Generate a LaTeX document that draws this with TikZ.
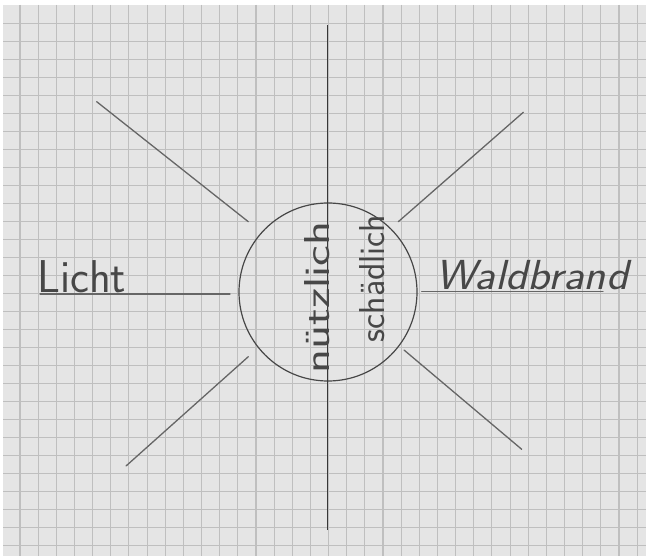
\documentclass[tikz,border=0pt]{standalone}
\usepackage{fontspec}
\begin{document}
\begin{tikzpicture}[x=1pt,y=-1pt,
  gridline/.style={draw=gray!50, line width=1.1pt},
  ray/.style={draw=black!60, line width=1.3pt, line cap=round},
  axis/.style={draw=black!78, line width=1.3pt},
  hand/.style={text=black!72, inner sep=0pt, font=\sffamily},
]
\useasboundingbox (0,0) rectangle (646,556);
\fill[white] (0,0) rectangle (646,556);
\fill[gray!20] (3,5) rectangle (646,556);
% grid paper
\foreach \k in {1,...,35} {
  \draw[gridline] ({1.85+18.15*\k},5) -- ({1.85+18.15*\k},556);
}
\foreach \k in {1,...,30} {
  \draw[gridline] (3,{5.3+18*\k}) -- (646,{5.3+18*\k});
}
% central circle
\node[circle, draw=black!72, line width=1.2pt, minimum size=178pt, inner sep=0pt] (sun) at (328,292) {};
% vertical axis
\coordinate (vtop) at (327.5,25);
\coordinate (vbot) at (327.5,530);
\draw[axis] (vtop) -- (vbot);
% rays
\coordinate (ulA) at (96.7,101.7);  \coordinate (ulB) at (248.3,221.7);
\coordinate (urA) at (523.3,112.3); \coordinate (urB) at (398.3,221.7);
\coordinate (llA) at (126,466);     \coordinate (llB) at (248.3,356.7);
\coordinate (lrA) at (521.7,449.3); \coordinate (lrB) at (404,350);
\draw[ray] (ulA) -- (ulB);
\draw[ray] (urA) -- (urB);
\draw[ray] (llA) -- (llB);
\draw[ray] (lrA) -- (lrB);
% horizontal lines (underlines)
\coordinate (lA) at (40,294);    \coordinate (lB) at (230,294);
\coordinate (rA) at (421.7,291.7); \coordinate (rB) at (603,291.7);
\draw[ray] (lA) -- (lB);
\draw[ray] (rA) -- (rB);
% labels
\node[hand, anchor=base west] (licht) at (37,293)
  {\fontsize{46}{50}\selectfont\scalebox{0.98}[1]{Licht}};
\node[hand, anchor=base west] (wald) at (435,290)
  {\fontsize{42}{46}\selectfont\itshape\scalebox{1.09}[1]{Waldbrand}};
\node[hand, anchor=base, rotate=90] (nuetz) at (329,297.5)
  {\fontsize{36}{40}\selectfont\scalebox{1.38}[1]{nützlich}};
\node[hand, anchor=base, rotate=90] (schaed) at (384,278.5)
  {\fontsize{36}{40}\selectfont\scalebox{1.0}[1]{schädlich}};
\end{tikzpicture}
\end{document}
